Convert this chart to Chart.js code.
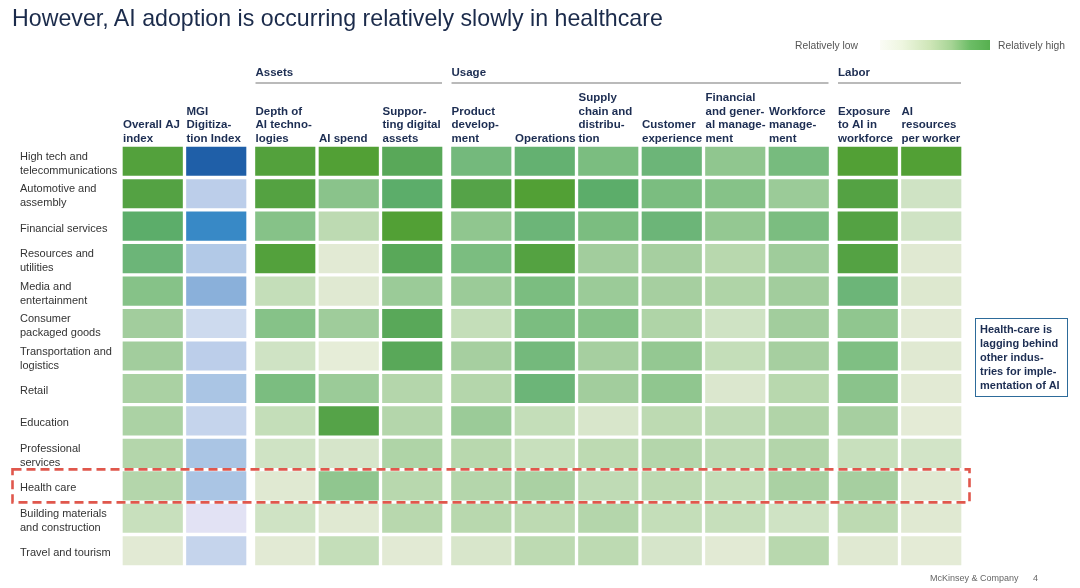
<!DOCTYPE html>
<html>
<head>
<meta charset="utf-8">
<script src="https://cdn.jsdelivr.net/npm/chart.js@4.4.1/dist/chart.umd.min.js"></script>
<style>
  html, body { margin: 0; padding: 0; background: #ffffff; }
  #wrap { position: relative; width: 1080px; height: 588px; overflow: hidden; font-family: "Liberation Sans", Arial, sans-serif; }
  canvas { position: absolute; left: 0; top: 0; }
  .title { position: absolute; left: 12px; top: 5px; font-size: 23.2px; line-height: 26px; color: #1b2b4b; white-space: nowrap; }
  .leg { position: absolute; top: 39.5px; font-size: 10.3px; line-height: 12px; color: #555; white-space: nowrap; }
  .grad { position: absolute; left: 880px; top: 40px; width: 110px; height: 10px;
          background: linear-gradient(to right, #fbfcf6 0%, #eef6e0 20%, #cfe6b8 45%, #a6d495 65%, #6cbd66 82%, #56b04f 100%); }
  .callout { position: absolute; left: 975px; top: 318px; width: 84px; height: 71px; border: 1.5px solid #2d6b9a;
             padding: 3px 3px 3px 4px; font-size: 11px; line-height: 14px; font-weight: bold; color: #1c2d52; white-space: nowrap; }
  .foot { position: absolute; top: 572.5px; font-size: 9px; line-height: 11px; color: #666; white-space: nowrap; }
</style>
</head>
<body>
<div id="wrap">
  <canvas id="c" width="1080" height="588"></canvas>
  <div class="title">However, AI adoption is occurring relatively slowly in healthcare</div>
  <div class="leg" style="right: 222px;">Relatively low</div>
  <div class="grad"></div>
  <div class="leg" style="left: 998px;">Relatively high</div>
  <div class="callout">Health-care is<br>lagging behind<br>other indus-<br>tries for imple-<br>mentation of AI</div>
  <div class="foot" style="left: 930px;">McKinsey &amp; Company</div>
  <div class="foot" style="left: 1033px;">4</div>
</div>
<script>
// ---------------- DATA ----------------
const industries = [
  ["High tech and", "telecommunications"],
  ["Automotive and", "assembly"],
  "Financial services",
  ["Resources and", "utilities"],
  ["Media and", "entertainment"],
  ["Consumer", "packaged goods"],
  ["Transportation and", "logistics"],
  "Retail",
  "Education",
  ["Professional", "services"],
  "Health care",
  ["Building materials", "and construction"],
  "Travel and tourism"
];
const highlightedIndustry = "Health care";

const metricLabels = [
  ["Overall AJ", "index"],
  ["MGI", "Digitiza-", "tion Index"],
  ["Depth of", "AI techno-", "logies"],
  ["AI spend"],
  ["Suppor-", "ting digital", "assets"],
  ["Product", "develop-", "ment"],
  ["Operations"],
  ["Supply", "chain and", "distribu-", "tion"],
  ["Customer", "experience"],
  ["Financial", "and gener-", "al manage-", "ment"],
  ["Workforce", "manage-", "ment"],
  ["Exposure", "to AI in", "workforce"],
  ["AI", "resources", "per worker"]
];
const metricGroups = ["", "", "Assets", "Assets", "Assets", "Usage", "Usage", "Usage", "Usage", "Usage", "Usage", "Labor", "Labor"];
const metricPalette = ["green", "blue", "green", "green", "green", "green", "green", "green", "green", "green", "green", "green", "green"];

// relative intensity per industry (0 = relatively low, 10 = relatively high)
const overallAI         = [9.5, 9.2, 8.0, 7.0, 5.5, 4.2, 4.2, 3.8, 3.7, 3.2, 3.2, 2.3, 0.8];
const mgiDigitization   = [10, 3.0, 8.6, 3.8, 6.5, 2.0, 3.0, 4.5, 2.5, 4.5, 4.5, 0.0, 2.5];
const depthOfAITech     = [9.5, 9.3, 5.5, 9.5, 2.5, 5.5, 2.0, 6.0, 2.5, 2.0, 1.0, 2.0, 0.8];
const aiSpend           = [9.8, 5.3, 2.8, 0.8, 1.0, 4.3, 0.5, 4.5, 9.0, 1.6, 5.0, 1.0, 2.5];
const supportingDigital = [8.5, 8.0, 9.8, 8.5, 4.5, 8.5, 8.5, 3.2, 3.2, 3.5, 3.0, 3.0, 0.8];
const productDev        = [6.5, 9.0, 5.0, 6.0, 4.5, 2.5, 4.0, 3.2, 4.5, 3.0, 3.2, 3.0, 1.5];
const operations        = [7.5, 9.8, 7.0, 9.3, 6.0, 6.0, 6.5, 7.0, 2.5, 2.3, 3.8, 2.8, 2.8];
const supplyChain       = [6.0, 8.0, 6.0, 4.2, 4.5, 5.5, 4.0, 4.2, 1.5, 2.8, 2.7, 3.2, 2.8];
const customerExp       = [7.0, 6.0, 7.0, 4.0, 4.0, 3.5, 4.8, 5.0, 2.8, 3.2, 2.8, 2.5, 1.6];
const financialMgmt     = [5.0, 5.5, 4.8, 3.0, 3.5, 2.0, 2.5, 1.3, 2.7, 2.7, 2.5, 2.4, 0.8];
const workforceMgmt     = [6.3, 4.5, 6.0, 4.3, 4.2, 4.2, 4.0, 3.0, 3.4, 3.3, 3.8, 2.0, 3.0];
const exposureToAI      = [9.8, 9.2, 9.2, 9.2, 7.0, 5.0, 5.8, 5.3, 4.0, 2.3, 4.0, 2.8, 1.0];
const aiResources       = [9.8, 2.0, 2.0, 1.0, 1.2, 0.8, 1.0, 0.8, 0.7, 1.8, 1.0, 1.0, 0.7];

const metricValues = [overallAI, mgiDigitization, depthOfAITech, aiSpend, supportingDigital, productDev,
  operations, supplyChain, customerExp, financialMgmt, workforceMgmt, exposureToAI, aiResources];

// ---------------- COLOUR SCALES ----------------
const greenStops = [
  [0, [236, 240, 222]], [1, [224, 233, 210]], [2, [207, 227, 196]], [3, [184, 216, 174]],
  [4, [166, 207, 160]], [5, [144, 198, 143]], [6, [123, 189, 128]], [7, [108, 181, 120]],
  [8, [92, 173, 106]], [9, [85, 163, 72]], [10, [81, 159, 48]]
];
const blueStops = [
  [0, [226, 226, 244]], [2, [205, 218, 238]], [3, [188, 206, 234]], [4.5, [170, 197, 228]],
  [6.5, [138, 176, 218]], [8.5, [58, 140, 200]], [10, [31, 95, 168]]
];
function interp(stops, v) {
  if (v <= stops[0][0]) return stops[0][1];
  for (let i = 1; i < stops.length; i++) {
    if (v <= stops[i][0]) {
      const [a, ca] = stops[i - 1], [b, cb] = stops[i];
      const t = (v - a) / (b - a);
      return ca.map((c, k) => Math.round(c + (cb[k] - c) * t));
    }
  }
  return stops[stops.length - 1][1];
}
function colourFor(palette, v) {
  const c = interp(palette === "blue" ? blueStops : greenStops, v);
  return `rgb(${c[0]},${c[1]},${c[2]})`;
}

// ---------------- DATASETS ----------------
const GROUP_GAP = 0.087; // extra space between metric groups, in column units
const datasets = [];
const columnDatasetIndex = [];
metricValues.forEach((vals, i) => {
  if (i > 0 && metricGroups[i] !== metricGroups[i - 1]) {
    datasets.push({
      label: "gap" + i,
      data: industries.map(() => GROUP_GAP),
      backgroundColor: "rgba(0,0,0,0)",
      borderWidth: 0
    });
  }
  columnDatasetIndex.push(datasets.length);
  datasets.push({
    label: metricLabels[i].join(" "),
    data: industries.map(() => 1),
    backgroundColor: vals.map(v => colourFor(metricPalette[i], v)),
    borderColor: "#ffffff",
    borderWidth: 2,
    borderSkipped: false
  });
});
const nGaps = datasets.length - metricValues.length;

// ---------------- PLUGINS ----------------
const FONT = '"Liberation Sans", Arial, sans-serif';
const headerPlugin = {
  id: "headers",
  afterDraw(chart) {
    const ctx = chart.ctx;
    ctx.save();
    ctx.fillStyle = "#1c2d52";
    ctx.font = "bold 11.5px " + FONT;
    ctx.textAlign = "left";
    ctx.textBaseline = "middle";
    const colLeft = [], colRight = [];
    columnDatasetIndex.forEach((di, i) => {
      const el = chart.getDatasetMeta(di).data[0];
      const l = Math.min(el.x, el.base) + 2, r = Math.max(el.x, el.base) - 2;
      colLeft.push(l); colRight.push(r);
      const lines = metricLabels[i];
      const lastY = 139, lh = 13.7;
      lines.forEach((t, k) => {
        ctx.fillText(t, l, lastY - (lines.length - 1 - k) * lh);
      });
    });
    // group headers
    const seen = {};
    metricGroups.forEach((g, i) => {
      if (!g) return;
      if (!seen[g]) seen[g] = { l: colLeft[i], r: colRight[i] };
      seen[g].r = colRight[i];
    });
    Object.keys(seen).forEach(g => {
      const { l, r } = seen[g];
      ctx.fillStyle = "#1c2d52";
      ctx.fillText(g, l, 72.5);
      ctx.strokeStyle = "#a3a3a3";
      ctx.lineWidth = 1.5;
      ctx.beginPath();
      ctx.moveTo(l, 83); ctx.lineTo(r, 83);
      ctx.stroke();
    });
    // highlight box
    const yScale = chart.scales.y;
    const hi = industries.indexOf(highlightedIndustry);
    const yc = yScale.getPixelForValue(hi);
    const half = 16.5;
    ctx.strokeStyle = "#e0574c";
    ctx.lineWidth = 2.6;
    ctx.setLineDash([9, 5]);
    ctx.strokeRect(12.5, yc - half, 957, half * 2);
    ctx.restore();
  }
};

new Chart(document.getElementById("c"), {
  type: "bar",
  data: { labels: industries, datasets },
  options: {
    responsive: false,
    animation: false,
    indexAxis: "y",
    layout: { padding: { left: 20, right: 117, top: 145, bottom: 21 } },
    plugins: { legend: { display: false }, tooltip: { enabled: false }, title: { display: false } },
    datasets: { bar: { categoryPercentage: 1, barPercentage: 1 } },
    scales: {
      x: {
        type: "linear", stacked: true, display: false,
        min: 0, max: metricValues.length + nGaps * GROUP_GAP
      },
      y: {
        type: "category", stacked: true,
        grid: { display: false }, border: { display: false },
        ticks: {
          color: "#333333", crossAlign: "far", padding: 0, labelOffset: 2.5,
          font: { family: FONT, size: 11, lineHeight: 1.27 }
        },
        afterFit(scale) { scale.width = 101; }
      }
    }
  },
  plugins: [headerPlugin]
});
</script>
</body>
</html>
